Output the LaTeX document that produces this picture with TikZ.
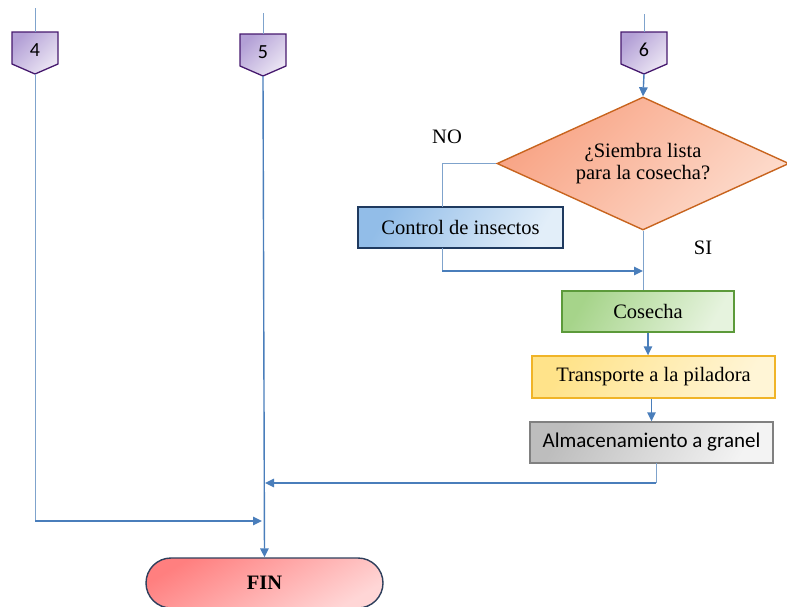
\documentclass[tikz,border=0pt]{standalone}
\usepackage{fontspec}
\setmainfont{Liberation Serif}
\newfontfamily\calfont{Carlito}
\usetikzlibrary{shapes.geometric,arrows.meta,calc}
\definecolor{lnblue}{HTML}{4A7EBB}
\definecolor{thinblue}{HTML}{7FA3CC}
\definecolor{purpB}{HTML}{46196E}
\definecolor{purpD}{HTML}{B3A0D6}
\definecolor{purpL}{HTML}{ECE6F4}
\definecolor{diaB}{HTML}{C8641E}
\definecolor{diaD}{HTML}{F8A384}
\definecolor{diaL}{HTML}{FDDCCD}
\definecolor{ctrlB}{HTML}{1F3A5F}
\definecolor{ctrlD}{HTML}{92BDE8}
\definecolor{ctrlL}{HTML}{E2EEF9}
\definecolor{cosB}{HTML}{5C9A3A}
\definecolor{cosD}{HTML}{A6D48A}
\definecolor{cosL}{HTML}{E6F3DE}
\definecolor{traB}{HTML}{F0B428}
\definecolor{traD}{HTML}{FFE38A}
\definecolor{traL}{HTML}{FFF5D6}
\definecolor{almB}{HTML}{808080}
\definecolor{almD}{HTML}{BDBDBD}
\definecolor{almL}{HTML}{F3F3F3}
\definecolor{finB}{HTML}{2E3F5C}
\definecolor{finD}{HTML}{FF7F7F}
\definecolor{finL}{HTML}{FFD6D6}
\newcommand\offpg[4]{%
  \path[offp] (#2-23,#3) -- (#2+23,#3) -- (#2+23,#3+32) -- (#2,#3+42) -- (#2-23,#3+32) -- cycle;
  \node[digit] (#1) at (#2,#3+18) {#4};
  \coordinate (#1t) at (#2,#3);
  \coordinate (#1b) at (#2,#3+42);
}
\begin{document}
\begin{tikzpicture}[x=1pt,y=-1pt,
  txt/.style={font=\fontsize{20.5}{22}\selectfont},
  digit/.style={font=\calfont\fontsize{20}{22}\selectfont, inner sep=0pt},
  offp/.style={draw=purpB, line width=1.3pt, line join=miter, top color=purpD, bottom color=purpL, shading angle=45},
  boxst/.style={draw, rectangle, line width=1.4pt, inner sep=0pt, minimum height=41, txt},
  arr/.style={draw=lnblue, line width=1.4pt, -{Triangle[length=9pt,width=8.5pt]}},
  thinl/.style={draw=thinblue, line width=1pt}]
\useasboundingbox (0,0) rectangle (787,606);

% off-page connectors
\offpg{cA}{35}{32}{4}
\offpg{cB}{263}{34}{5}
\offpg{cC}{644}{32}{6}
\coordinate (cAtop) at (35,8);
\coordinate (cBtop) at (263,13);
\coordinate (cCtop) at (644,14);
\draw[thinl] (cAtop) -- (cAt);
\draw[thinl] (cBtop) -- (cBt);
\draw[thinl] (cCtop) -- (cCt);

% decision
\node[diamond, aspect=2.2, draw=diaB, line width=1.4pt, inner sep=0pt, minimum width=292, minimum height=133,
      top color=diaD, bottom color=diaL, shading angle=45, align=center, txt] (dia) at (643,163.5)
      {¿Siembra lista\\para la cosecha?};

% process boxes
\node[boxst, draw=ctrlB, minimum width=205, top color=ctrlD, bottom color=ctrlL, shading angle=60] (ctrl) at (460.5,227.5) {Control de insectos};
\node[boxst, draw=cosB, minimum width=172, top color=cosD, bottom color=cosL, shading angle=60] (cos) at (648,311.5) {Cosecha};
\node[boxst, draw=traB, minimum width=243, minimum height=42, top color=traD, bottom color=traL, shading angle=60] (tra) at (653.5,377) {Transporte a la piladora};
\node[boxst, draw=almB, minimum width=243, top color=almD, bottom color=almL, shading angle=60, font=\calfont\fontsize{21}{22}\selectfont] (alm) at (651.5,442.5) {Almacenamiento a granel};

\node[draw=finB, line width=1.4pt, rounded corners=25pt, minimum width=237, minimum height=50, inner sep=0pt,
      top color=finD, bottom color=finL, shading angle=30, font=\bfseries\fontsize{20.5}{22}\selectfont] (fin) at (264.5,583) {FIN};

% labels
\node[txt] (no) at (447,137) {NO};
\node[txt] (si) at (703,248) {SI};

% connectors
\draw[arr] (cCb) -- (dia.north);
\coordinate (noTurn) at (442,163.5);
\coordinate (ctrlIn) at (442,207);
\coordinate (ctrlOut) at (442,248);
\coordinate (ctrlTurn) at (442,271);
\coordinate (ctrlEnd) at (643,271);
\draw[thinl] (dia.west) -- (noTurn) -- (ctrlIn);
\draw[thinl] (ctrlOut) -- (ctrlTurn);
\draw[arr] (ctrlTurn) -- (ctrlEnd);
\draw[thinl] (dia.south) -- (dia.south |- cos.north);
\draw[arr] (cos.south) -- (cos.south |- tra.north);
\draw[arr] (tra.south -| alm.north) -- (alm.north);
\coordinate (almOut) at (656,463);
\coordinate (almTurn) at (656,483);
\coordinate (almEnd) at (265,483);
\draw[thinl] (almOut) -- (almTurn);
\draw[arr] (almTurn) -- (almEnd);
\coordinate (aTurn) at (35,521);
\coordinate (aEnd) at (262,521);
\draw[thinl] (cAb) -- (aTurn);
\draw[arr] (aTurn) -- (aEnd);
\draw[arr] (cBb) -- (fin.north);
\end{tikzpicture}
\end{document}
